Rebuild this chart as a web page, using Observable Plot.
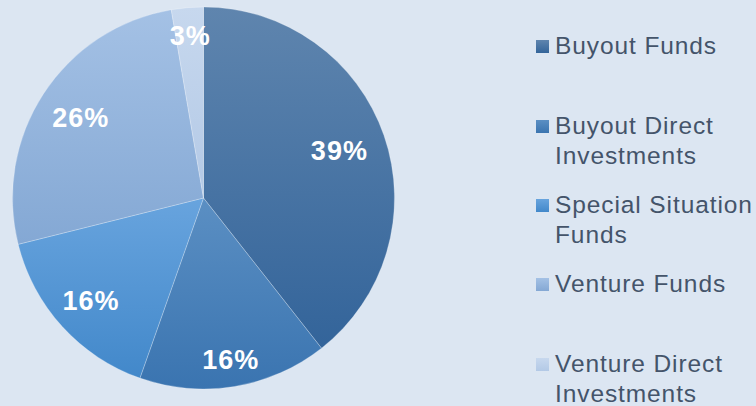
<!DOCTYPE html>
<html>
<head>
<meta charset="utf-8">
<script src="https://cdn.jsdelivr.net/npm/d3@7"></script>
<script src="https://cdn.jsdelivr.net/npm/@observablehq/plot@0.6"></script>
<style>
  html, body { margin: 0; padding: 0; background: #dce6f2; }
  #wrap { position: relative; width: 756px; height: 406px; overflow: hidden; background: #dce6f2; }
  #chart svg { display: block; }
  .pielabel text { letter-spacing: 1px; }
  #legend { position: absolute; left: 0; top: 0; width: 756px; height: 406px; pointer-events: none; }
  .item { position: absolute; left: 536px; font-family: "Liberation Sans", Arial, sans-serif; font-size: 24.5px; letter-spacing: 0.9px; color: #44546a; line-height: 30px; }
  .sw { position: absolute; left: 0; width: 13px; height: 13px; }
  .txt { position: absolute; left: 19px; white-space: nowrap; }
</style>
</head>
<body>
<div id="wrap">
  <div id="chart"></div>
  <div id="legend"></div>
</div>
<script>
// ---- data ----
const categories = ["Buyout Funds", "Buyout Direct Investments", "Special Situation Funds", "Venture Funds", "Venture Direct Investments"];
const shares = [39.4, 16.0, 15.7, 26.2, 2.7];
// legend line breaks
const legendLines = [["Buyout Funds"], ["Buyout Direct", "Investments"], ["Special Situation", "Funds"], ["Venture Funds"], ["Venture Direct", "Investments"]];

// ---- styles / layout ----
const gradTop = ["#5f85ae", "#5b8fc3", "#68a4de", "#a4c1e5", "#c7d8ee"];
const gradBottom = ["#33649a", "#3a74b0", "#4288ca", "#84a8d4", "#b3c9e6"];
const labelRadius = [0.75, 0.86, 0.80, 0.77, 0.85];
const legendLineCenter = [46, 126, 205, 284, 364];

const W = 756, H = 406, cx = 203.5, cy = 198, R = 191;

const pie = d3.pie().sort(null).value(d => d.share)(categories.map((c, i) => ({c, share: shares[i], i})));
const slices = pie.map(p => {
  const mid = (p.startAngle + p.endAngle) / 2;
  const r = labelRadius[p.data.i];
  return {...p.data, startAngle: p.startAngle, endAngle: p.endAngle,
          lx: r * Math.sin(mid), ly: r * Math.cos(mid),
          label: Math.round(p.data.share) + "%"};
});

function sliceMark(index, scales) {
  const x = scales.x, y = scales.y;
  const ox = x(0), oy = y(0), rad = x(1) - x(0);
  const g = d3.create("svg:g");
  const defs = g.append("defs");
  slices.forEach((s, i) => {
    const lg = defs.append("linearGradient").attr("id", "grad" + i)
      .attr("x1", 0).attr("y1", 0).attr("x2", 0).attr("y2", 1);
    lg.append("stop").attr("offset", "0%").attr("stop-color", gradTop[i]);
    lg.append("stop").attr("offset", "100%").attr("stop-color", gradBottom[i]);
  });
  const arc = d3.arc().innerRadius(0).outerRadius(rad);
  g.append("g").attr("transform", `translate(${ox},${oy})`)
    .selectAll("path").data(slices).join("path")
    .attr("d", d => arc(d))
    .attr("fill", (d, i) => `url(#grad${i})`)
    .attr("stroke", "rgba(255,255,255,0.35)")
    .attr("stroke-width", 0.7);
  return g.node();
}

const plot = Plot.plot({
  width: W, height: H,
  margin: 0,
  style: {background: "transparent", overflow: "visible"},
  x: {domain: [-cx / R, (W - cx) / R], range: [0, W], axis: null},
  y: {domain: [-(H - cy) / R, cy / R], range: [H, 0], axis: null},
  marks: [
    sliceMark,
    Plot.text(slices, {
      x: "lx", y: "ly", text: "label",
      fill: "white", fontWeight: "bold", fontSize: 27,
      fontFamily: "Liberation Sans, Arial, sans-serif",
      className: "pielabel"
    })
  ]
});
document.getElementById("chart").appendChild(plot);

// ---- legend ----
const legend = d3.select("#legend");
categories.forEach((c, i) => {
  const top = legendLineCenter[i] - 15;
  const item = legend.append("div").attr("class", "item").style("top", top + "px");
  item.append("div").attr("class", "sw")
    .style("top", "8.5px")
    .style("background", `linear-gradient(${gradTop[i]}, ${gradBottom[i]})`);
  const t = item.append("div").attr("class", "txt");
  t.html(legendLines[i].join("<br>"));
});
</script>
</body>
</html>
